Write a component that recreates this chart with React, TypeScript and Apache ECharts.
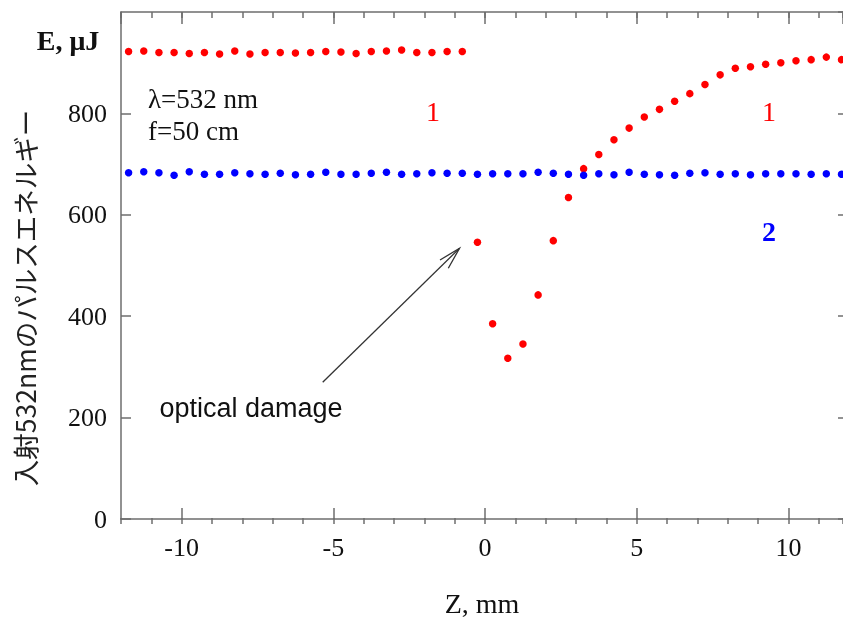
import React, { useEffect, useRef } from "react";
import * as echarts from "echarts";

// Z positions (mm) of the measured points
const zPositions = [
  -11.75, -11.25, -10.75, -10.25, -9.75, -9.25, -8.75, -8.25, -7.75, -7.25,
  -6.75, -6.25, -5.75, -5.25, -4.75, -4.25, -3.75, -3.25, -2.75, -2.25,
  -1.75, -1.25, -0.75, -0.25, 0.25, 0.75, 1.25, 1.75, 2.25, 2.75,
  3.25, 3.75, 4.25, 4.75, 5.25, 5.75, 6.25, 6.75, 7.25, 7.75,
  8.25, 8.75, 9.25, 9.75, 10.25, 10.75, 11.25, 11.75,
];

// curve 1 (red)
const energy1 = [
  922, 923, 920, 920, 918, 920, 917, 923, 917, 920,
  920, 919, 920, 922, 921, 918, 922, 923, 925, 920,
  920, 922, 922, 546, 385, 317, 345, 442, 549, 634,
  691, 719, 748, 771, 793, 808, 824, 839, 857, 876,
  889, 892, 897, 900, 904, 906, 911, 906,
];

// curve 2 (blue)
const energy2 = [
  683, 685, 683, 678, 685, 680, 680, 683, 681, 680,
  682, 679, 680, 684, 680, 680, 682, 684, 680, 681,
  683, 682, 682, 680, 681, 681, 681, 684, 682, 680,
  678, 681, 679, 684, 680, 679, 678, 682, 683, 680,
  681, 679, 681, 681, 681, 680, 681, 680,
];

const xMin = -12;
const xMax = 11.8;
const yMin = 0;
const yMax = 1000;
const yStep = 200;

export default function App() {
  const ref = useRef<HTMLDivElement>(null);

  useEffect(() => {
    const chart = echarts.init(ref.current!, null, { renderer: "svg" });
    const axisColor = "#6e6e6e";
    const serif = "'Liberation Serif', 'Times New Roman', serif";
    const sans = "'Liberation Sans', Arial, sans-serif";
    const lineStyle = { color: axisColor, width: 1.5 };

    const xBase = {
      type: "value",
      min: xMin,
      max: xMax,
      splitLine: { show: false },
    };

    const gridBox = { left: 121, right: 0, top: 12, bottom: 98 };

    chart.setOption({
      animation: false,
      grid: [gridBox, gridBox],
      xAxis: [
        {
          ...xBase,
          gridIndex: 0,
          position: "bottom",
          axisLine: { show: true, onZero: false, lineStyle },
          axisTick: { show: true, inside: true, length: 11, lineStyle },
          axisLabel: {
            showMinLabel: false,
            showMaxLabel: false,
            fontFamily: serif,
            fontSize: 26,
            color: "#111",
            margin: 15,
          },
          name: "Z, mm",
          nameLocation: "middle",
          nameGap: 70,
          nameTextStyle: { fontFamily: serif, fontSize: 28, color: "#111" },
        },
        {
          ...xBase,
          gridIndex: 0,
          position: "top",
          axisLine: { show: true, onZero: false, lineStyle },
          axisTick: { show: true, inside: true, length: 12, lineStyle },
          axisLabel: { show: false },
        },
        {
          ...xBase,
          gridIndex: 1,
          position: "bottom",
          interval: 1,
          axisLine: { show: false, onZero: false },
          axisTick: { show: true, inside: true, length: 6, lineStyle },
          axisLabel: { show: false },
        },
        {
          ...xBase,
          gridIndex: 1,
          position: "top",
          interval: 1,
          axisLine: { show: false, onZero: false },
          axisTick: { show: true, inside: true, length: 6, lineStyle },
          axisLabel: { show: false },
        },
      ],
      yAxis: [
        {
          type: "value",
          gridIndex: 0,
          position: "left",
          min: yMin,
          max: yMax,
          interval: yStep,
          splitLine: { show: false },
          axisLine: { show: true, onZero: false, lineStyle },
          axisTick: { show: true, inside: true, length: 10, lineStyle },
          axisLabel: {
            showMaxLabel: false,
            fontFamily: serif,
            fontSize: 26,
            color: "#111",
            margin: 14,
          },
        },
        {
          type: "value",
          gridIndex: 0,
          position: "right",
          min: yMin,
          max: yMax,
          interval: yStep,
          splitLine: { show: false },
          axisLine: { show: false, onZero: false },
          axisTick: { show: true, inside: true, length: 5, lineStyle },
          axisLabel: { show: false },
        },
        {
          type: "value",
          gridIndex: 1,
          min: yMin,
          max: yMax,
          show: false,
        },
      ],
      series: [
        {
          type: "scatter",
          xAxisIndex: 0,
          yAxisIndex: 0,
          symbol: "circle",
          symbolSize: 7.5,
          itemStyle: { color: "#ff0000", opacity: 1 },
          data: zPositions.map((z, i) => [z, energy1[i]]),
        },
        {
          type: "scatter",
          xAxisIndex: 0,
          yAxisIndex: 0,
          symbol: "circle",
          symbolSize: 7.5,
          itemStyle: { color: "#0000ff", opacity: 1 },
          data: zPositions.map((z, i) => [z, energy2[i]]),
        },
      ],
      graphic: [
        {
          type: "text",
          x: 68,
          y: 40,
          style: {
            text: "E, μJ",
            font: `bold 28px ${serif}`,
            fill: "#111",
            align: "center",
            verticalAlign: "middle",
          },
        },
        {
          type: "text",
          x: 24,
          y: 298,
          rotation: Math.PI / 2,
          style: {
            text: "入射532nmのパルスエネルギー",
            font: `26.5px 'Noto Sans CJK JP', sans-serif`,
            fill: "#222",
            align: "center",
            verticalAlign: "middle",
          },
        },
        {
          type: "text",
          x: 148,
          y: 99,
          style: {
            text: "λ=532 nm",
            font: `27px ${serif}`,
            fill: "#111",
            align: "left",
            verticalAlign: "middle",
          },
        },
        {
          type: "text",
          x: 148,
          y: 131,
          style: {
            text: "f=50 cm",
            font: `27px ${serif}`,
            fill: "#111",
            align: "left",
            verticalAlign: "middle",
          },
        },
        {
          type: "text",
          x: 433,
          y: 111,
          style: {
            text: "1",
            font: `28px ${serif}`,
            fill: "#ff0000",
            align: "center",
            verticalAlign: "middle",
          },
        },
        {
          type: "text",
          x: 769,
          y: 111,
          style: {
            text: "1",
            font: `28px ${serif}`,
            fill: "#ff0000",
            align: "center",
            verticalAlign: "middle",
          },
        },
        {
          type: "text",
          x: 769,
          y: 231,
          style: {
            text: "2",
            font: `bold 28px ${serif}`,
            fill: "#0000ff",
            align: "center",
            verticalAlign: "middle",
          },
        },
        {
          type: "text",
          x: 251,
          y: 408,
          style: {
            text: "optical damage",
            font: `27px ${sans}`,
            fill: "#111",
            align: "center",
            verticalAlign: "middle",
          },
        },
        {
          type: "line",
          shape: { x1: 322.7, y1: 382.3, x2: 459.5, y2: 248.3 },
          style: { stroke: "#333", lineWidth: 1.3 },
        },
        {
          type: "polyline",
          shape: { points: [[440, 260], [459.5, 248.3], [448.3, 268.3]] },
          style: { stroke: "#333", lineWidth: 1.3, fill: null },
        },
      ],
    });

    return () => chart.dispose();
  }, []);

  return (
    <div
      ref={ref}
      style={{ position: "fixed", left: 0, top: 0, width: 843, height: 622 }}
    />
  );
}
